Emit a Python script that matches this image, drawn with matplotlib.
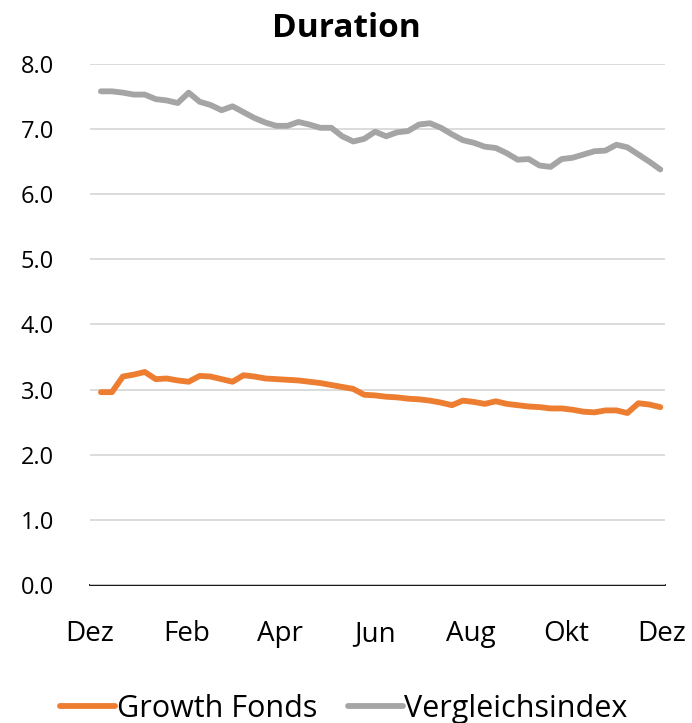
import pandas as pd
import matplotlib.pyplot as plt

plt.rcParams['font.family'] = ['Open Sans', 'DejaVu Sans']

# weekly observations
dates = pd.date_range("2022-12-08", periods=52, freq="7D")

growth_fonds = [2.96, 2.96, 3.20, 3.23, 3.27, 3.16, 3.17, 3.14, 3.12, 3.21,
                3.20, 3.16, 3.12, 3.22, 3.20, 3.17, 3.16, 3.15, 3.14, 3.12,
                3.10, 3.07, 3.04, 3.01, 2.92, 2.91, 2.89, 2.88, 2.86, 2.85,
                2.83, 2.80, 2.76, 2.83, 2.81, 2.78, 2.82, 2.78, 2.76, 2.74,
                2.73, 2.71, 2.71, 2.69, 2.66, 2.65, 2.68, 2.68, 2.64, 2.79,
                2.77, 2.73]

vergleichsindex = [7.58, 7.58, 7.56, 7.53, 7.53, 7.46, 7.44, 7.40, 7.56, 7.42,
                   7.37, 7.29, 7.35, 7.26, 7.17, 7.10, 7.05, 7.05, 7.11, 7.07,
                   7.02, 7.02, 6.89, 6.81, 6.85, 6.96, 6.89, 6.95, 6.97, 7.07,
                   7.09, 7.02, 6.92, 6.83, 6.79, 6.73, 6.71, 6.63, 6.53, 6.54,
                   6.44, 6.42, 6.54, 6.56, 6.61, 6.66, 6.67, 6.76, 6.72, 6.61,
                   6.50, 6.38]

month_labels = ["Dez", "Feb", "Apr", "Jun", "Aug", "Okt", "Dez"]
month_ticks = pd.to_datetime(["2022-12-01", "2023-02-01", "2023-04-01", "2023-06-01",
                              "2023-08-01", "2023-10-01", "2023-12-01"])

fig = plt.figure(figsize=(6.92, 7.23), dpi=100)
ax = fig.add_axes([0.130, 0.191, 0.831, 0.7205])

ax.plot(dates, growth_fonds, color="#ED7D31", lw=4.2, label="Growth Fonds",
        solid_capstyle="round", solid_joinstyle="round")
ax.plot(dates, vergleichsindex, color="#A5A5A5", lw=4.2, label="Vergleichsindex",
        solid_capstyle="round", solid_joinstyle="round")

ax.set_ylim(0, 8)
ax.set_yticks(range(0, 9))
ax.set_yticklabels([f"{v:.1f}" for v in range(0, 9)])
ax.set_xlim(pd.Timestamp("2022-12-01"), pd.Timestamp("2023-12-03"))
ax.set_xticks(month_ticks)
ax.set_xticklabels(month_labels)

ax.grid(axis="y", color="#D9D9D9", lw=1.3)
ax.set_axisbelow(True)
for s in ["top", "right", "left"]:
    ax.spines[s].set_visible(False)
ax.spines["bottom"].set_color("black")
ax.spines["bottom"].set_linewidth(1.3)
ax.spines["bottom"].set_zorder(0.5)
ax.tick_params(axis="both", length=0)
ax.tick_params(axis="y", labelsize=17, pad=26)
ax.tick_params(axis="x", labelsize=20, pad=25)

fig.suptitle("Duration", fontsize=24, fontweight="bold", x=0.5, y=0.984)

fig.legend(loc="center", bbox_to_anchor=(0.497, 0.02), ncol=2, frameon=False,
           fontsize=22, handlelength=1.8, handletextpad=0.05, columnspacing=1.0)

fig.savefig("out.png", dpi=100)
